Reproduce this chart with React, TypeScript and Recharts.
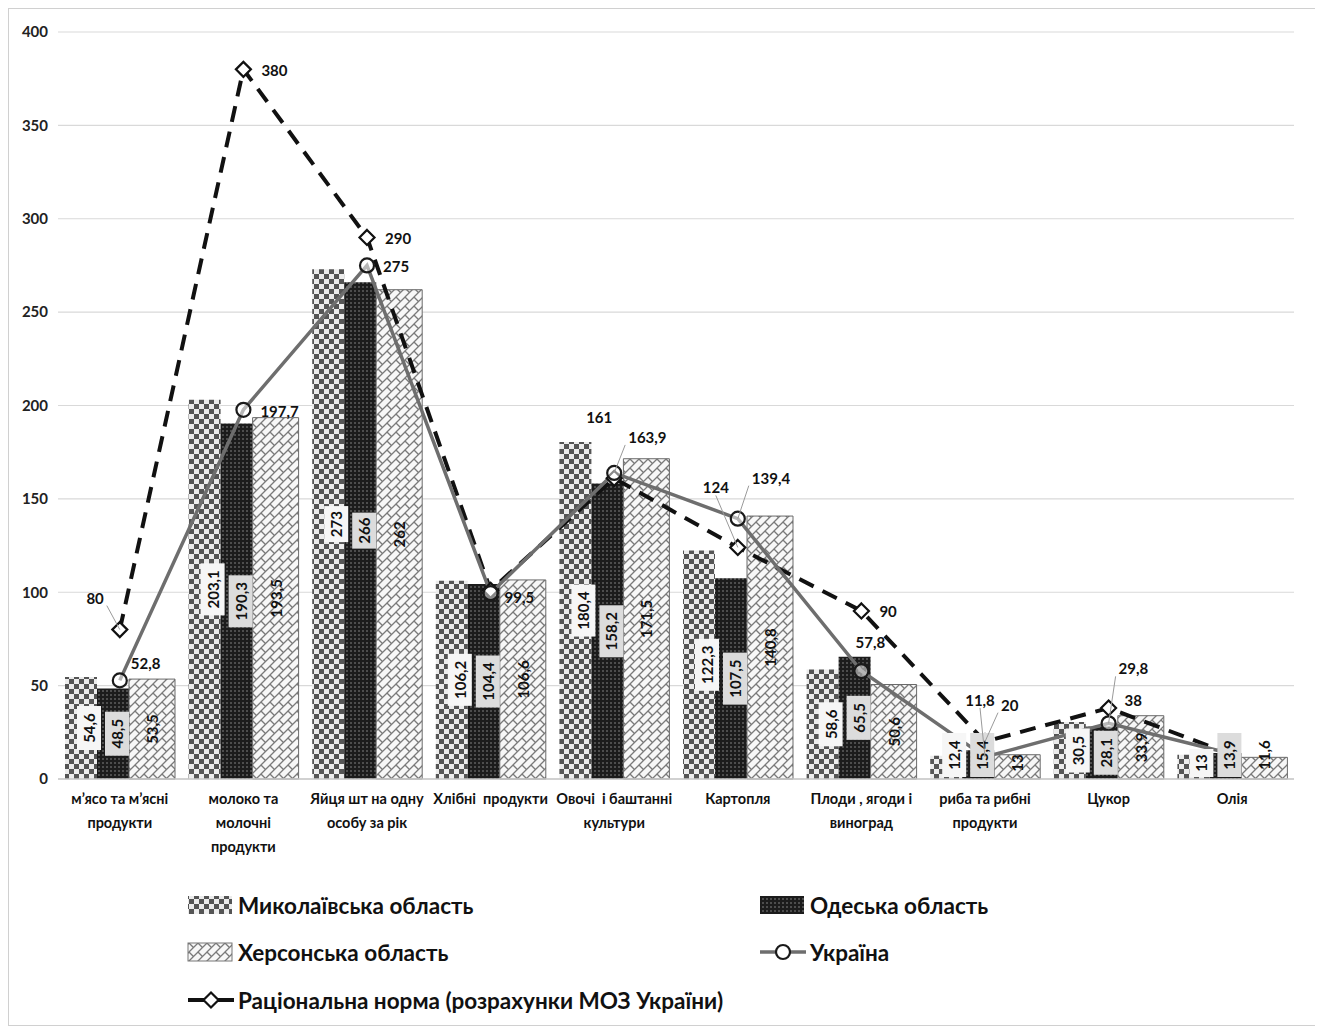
import React from 'react';
import { ComposedChart, Bar, Line, XAxis, YAxis, CartesianGrid, LabelList } from 'recharts';

const categories = [
  'м’ясо та м’ясні\nпродукти',
  'молоко та\nмолочні\nпродукти',
  'Яйця шт на одну\nособу за рік',
  'Хлібні  продукти',
  'Овочі  і баштанні\nкультури',
  'Картопля',
  'Плоди , ягоди і\nвиноград',
  'риба та рибні\nпродукти',
  'Цукор',
  'Олія',
];
const mykolaiv = [54.6, 203.1, 273, 106.2, 180.4, 122.3, 58.6, 12.4, 30.5, 13];
const odesa = [48.5, 190.3, 266, 104.4, 158.2, 107.5, 65.5, 15.4, 28.1, 13.9];
const kherson = [53.5, 193.5, 262, 106.6, 171.5, 140.8, 50.6, 13, 33.9, 11.6];
const ukraine = [52.8, 197.7, 275, 99.5, 163.9, 139.4, 57.8, 11.8, 29.8, 13.4];
const norm = [80, 380, 290, 101, 161, 124, 90, 20, 38, 13];
const yTicks = [0, 50, 100, 150, 200, 250, 300, 350, 400];
const seriesNames = [
  'Миколаївська область',
  'Одеська область',
  'Херсонська область',
  'Україна',
  'Раціональна норма (розрахунки МОЗ України)',
];

const data = categories.map((c, i) => ({
  cat: c,
  m: mykolaiv[i],
  o: odesa[i],
  k: kherson[i],
  u: ukraine[i],
  n: norm[i],
}));

const FONT = 'Lato, "Open Sans", sans-serif';
const fmt = (v: number) => String(v).replace('.', ',');

// label placement (style only)
type LP = { dx: number; dy: number; a: 'start' | 'middle' | 'end'; lead?: boolean } | null;
const ukraineLabelPos: LP[] = [
  { dx: 11, dy: -17, a: 'start' },
  { dx: 17, dy: 1, a: 'start' },
  { dx: 16, dy: 1, a: 'start' },
  { dx: 14, dy: 4, a: 'start' },
  { dx: 14, dy: -36, a: 'start', lead: true },
  { dx: 14, dy: -41, a: 'start', lead: true },
  { dx: 9, dy: -29, a: 'middle' },
  { dx: -5, dy: -57, a: 'middle', lead: true },
  { dx: 10, dy: -55, a: 'start', lead: true },
  null,
];
const normLabelPos: LP[] = [
  { dx: -16, dy: -32, a: 'end', lead: true },
  { dx: 18, dy: 1, a: 'start' },
  { dx: 18, dy: 1, a: 'start' },
  null,
  { dx: -15, dy: -61, a: 'middle' },
  { dx: -22, dy: -60, a: 'middle', lead: true },
  { dx: 18, dy: 0, a: 'start' },
  { dx: 16, dy: -37, a: 'start', lead: true },
  { dx: 16, dy: -8, a: 'start' },
  null,
];

const makeLineLabel = (pos: LP[]) => (props: any) => {
  const { x, y, value, index } = props;
  const p = pos[index];
  if (!p || value == null) return null;
  const tx = x + p.dx;
  const ty = y + p.dy;
  return (
    <g key={`ll-${index}`}>
      {p.lead && (
        <polyline
          points={`${x},${y} ${p.a === 'end' ? tx + 3 : p.a === 'start' ? tx - 3 : tx},${ty + (p.dy < 0 ? 8 : 0)}`}
          fill="none"
          stroke="#9a9a9a"
          strokeWidth={1}
        />
      )}
      <text
        x={tx}
        y={ty}
        textAnchor={p.a}
        dominantBaseline="central"
        fontFamily={FONT}
        fontSize={15}
        fontWeight="bold"
        fill="#111"
      >
        {fmt(value)}
      </text>
    </g>
  );
};

const makeBarLabel = (boxFill: string | null, dx: number) => (props: any) => {
  const { x, y, width, height, value, index } = props;
  if (value == null) return null;
  const txt = fmt(value);
  const len = txt.length * 8 + 12;
  const cx = x + width / 2 + dx;
  const bottom = y + height;
  let cy = y + height / 2;
  if (cy + len / 2 + 2 > bottom) cy = bottom - len / 2 - 2;
  return (
    <g key={`bl-${index}`}>
      {boxFill && <rect x={cx - 12} y={cy - len / 2} width={24} height={len} fill={boxFill} />}
      <text
        x={cx}
        y={cy}
        transform={`rotate(-90 ${cx} ${cy})`}
        textAnchor="middle"
        dominantBaseline="central"
        fontFamily={FONT}
        fontSize={15}
        fontWeight="bold"
        fill="#111"
      >
        {txt}
      </text>
    </g>
  );
};

const CircleDot = (props: any) => {
  const { cx, cy, index } = props;
  if (cx == null || cy == null) return <g key={`cd-${index}`} />;
  return <circle key={`cd-${index}`} cx={cx} cy={cy} r={7} fill="#fff" fillOpacity={0.5} stroke="#1a1a1a" strokeWidth={2.2} />;
};

const DiamondDot = (props: any) => {
  const { cx, cy, index } = props;
  if (cx == null || cy == null) return <g key={`dd-${index}`} />;
  const s = 7.5;
  return (
    <path
      key={`dd-${index}`}
      d={`M${cx},${cy - s} L${cx + s},${cy} L${cx},${cy + s} L${cx - s},${cy} Z`}
      fill="#fff"
      stroke="#111"
      strokeWidth={2.2}
    />
  );
};

const XTick = (props: any) => {
  const { x, y, payload } = props;
  const lines = String(payload.value).split('\n');
  return (
    <g>
      {lines.map((l, i) => (
        <text
          key={i}
          x={x}
          y={y + 17 + i * 24}
          textAnchor="middle"
          fontFamily={FONT}
          fontSize={14.5}
          fontWeight="bold"
          fill="#111"
          style={{ whiteSpace: 'pre' }}
        >
          {l}
        </text>
      ))}
    </g>
  );
};

const Patterns = ({ sfx }: { sfx: string }) => (
  <defs>
    <pattern id={`pM${sfx}`} width="10" height="10" patternUnits="userSpaceOnUse">
      <rect width="10" height="10" fill="#ececec" />
      <rect width="5" height="5" fill="#555" />
      <rect x="5" y="5" width="5" height="5" fill="#555" />
    </pattern>
    <pattern id={`pO${sfx}`} width="4" height="4" patternUnits="userSpaceOnUse">
      <rect width="4" height="4" fill="#1c1c1c" />
      <circle cx="2" cy="2" r="0.8" fill="#8c8c8c" />
    </pattern>
    <pattern id={`pK${sfx}`} width="9" height="9" patternUnits="userSpaceOnUse">
      <rect width="9" height="9" fill="#f7f7f7" />
      <path d="M0,9 L9,0 M-1,1 L1,-1 M8,10 L10,8" stroke="#7a7a7a" strokeWidth="1.3" />
      <path d="M0,0 L4.5,4.5" stroke="#7a7a7a" strokeWidth="1.3" />
    </pattern>
  </defs>
);

const Legend = () => {
  const items = [
    { kind: 'bar', fill: 'url(#pMl)', x: 179, y: 16, name: seriesNames[0] },
    { kind: 'bar', fill: 'url(#pOl)', x: 751, y: 16, name: seriesNames[1] },
    { kind: 'bar', fill: 'url(#pKl)', x: 179, y: 63, name: seriesNames[2] },
    { kind: 'circle', x: 751, y: 63, name: seriesNames[3] },
    { kind: 'diamond', x: 179, y: 111, name: seriesNames[4] },
  ];
  return (
    <svg width={1309} height={130} style={{ position: 'absolute', left: 0, top: 880 }}>
      <Patterns sfx="l" />
      {items.map((it, i) => (
        <g key={i}>
          {it.kind === 'bar' && (
            <rect x={it.x} y={it.y - 9} width={44} height={18} fill={it.fill} stroke={i === 2 ? '#777' : 'none'} strokeWidth={1} />
          )}
          {it.kind === 'circle' && (
            <g>
              <line x1={it.x} x2={it.x + 46} y1={it.y} y2={it.y} stroke="#6e6e6e" strokeWidth={3.5} />
              <circle cx={it.x + 23} cy={it.y} r={7} fill="#fff" stroke="#1a1a1a" strokeWidth={2.2} />
            </g>
          )}
          {it.kind === 'diamond' && (
            <g>
              <line x1={it.x} x2={it.x + 46} y1={it.y} y2={it.y} stroke="#111" strokeWidth={4} />
              <path
                d={`M${it.x + 23},${it.y - 7.5} L${it.x + 30.5},${it.y} L${it.x + 23},${it.y + 7.5} L${it.x + 15.5},${it.y} Z`}
                fill="#fff"
                stroke="#111"
                strokeWidth={2.2}
              />
            </g>
          )}
          <text
            x={it.x + 50}
            y={it.y}
            dominantBaseline="central"
            fontFamily={FONT}
            fontSize={22.5}
            fontWeight="bold"
            fill="#111"
          >
            {it.name}
          </text>
        </g>
      ))}
    </svg>
  );
};

export default function App() {
  return (
    <div
      style={{
        position: 'relative',
        width: 1311,
        height: 1018,
        border: '1px solid #d0d0d0',
        boxSizing: 'border-box',
        background: '#fff',
      }}
    >
      <ComposedChart
        width={1309}
        height={880}
        data={data}
        margin={{ top: 23, right: 24, left: 0, bottom: 0 }}
        barCategoryGap="5.5%"
        barGap={0}
      >
        <Patterns sfx="" />
        <CartesianGrid vertical={false} stroke="#d9d9d9" strokeWidth={1.2} />
        <XAxis
          dataKey="cat"
          height={110}
          tickLine={false}
          axisLine={{ stroke: '#c8c8c8', strokeWidth: 1.5 }}
          tick={<XTick />}
          interval={0}
        />
        <YAxis
          width={49}
          domain={[0, 400]}
          ticks={yTicks}
          axisLine={false}
          tickLine={false}
          tickMargin={4}
          tick={{ fontFamily: FONT, fontSize: 15, fontWeight: 'bold', fill: '#222' }}
        />
        <Bar dataKey="m" name={seriesNames[0]} fill="url(#pM)" barSize={32} isAnimationActive={false}>
          <LabelList dataKey="m" content={makeBarLabel('#f6f6f6', 8)} />
        </Bar>
        <Bar dataKey="o" name={seriesNames[1]} fill="url(#pO)" barSize={32} isAnimationActive={false}>
          <LabelList dataKey="o" content={makeBarLabel('#dcdcdc', 4)} />
        </Bar>
        <Bar dataKey="k" name={seriesNames[2]} fill="url(#pK)" stroke="#6a6a6a" strokeWidth={1} barSize={46} isAnimationActive={false}>
          <LabelList dataKey="k" content={makeBarLabel(null, 0)} />
        </Bar>
        <Line
          dataKey="n"
          name={seriesNames[4]}
          stroke="#111"
          strokeWidth={4}
          strokeDasharray="16 10"
          dot={DiamondDot}
          activeDot={false}
          isAnimationActive={false}
        >
          <LabelList dataKey="n" content={makeLineLabel(normLabelPos)} />
        </Line>
        <Line
          dataKey="u"
          name={seriesNames[3]}
          stroke="#6e6e6e"
          strokeWidth={3.5}
          dot={CircleDot}
          activeDot={false}
          isAnimationActive={false}
        >
          <LabelList dataKey="u" content={makeLineLabel(ukraineLabelPos)} />
        </Line>
      </ComposedChart>
      <Legend />
    </div>
  );
}
